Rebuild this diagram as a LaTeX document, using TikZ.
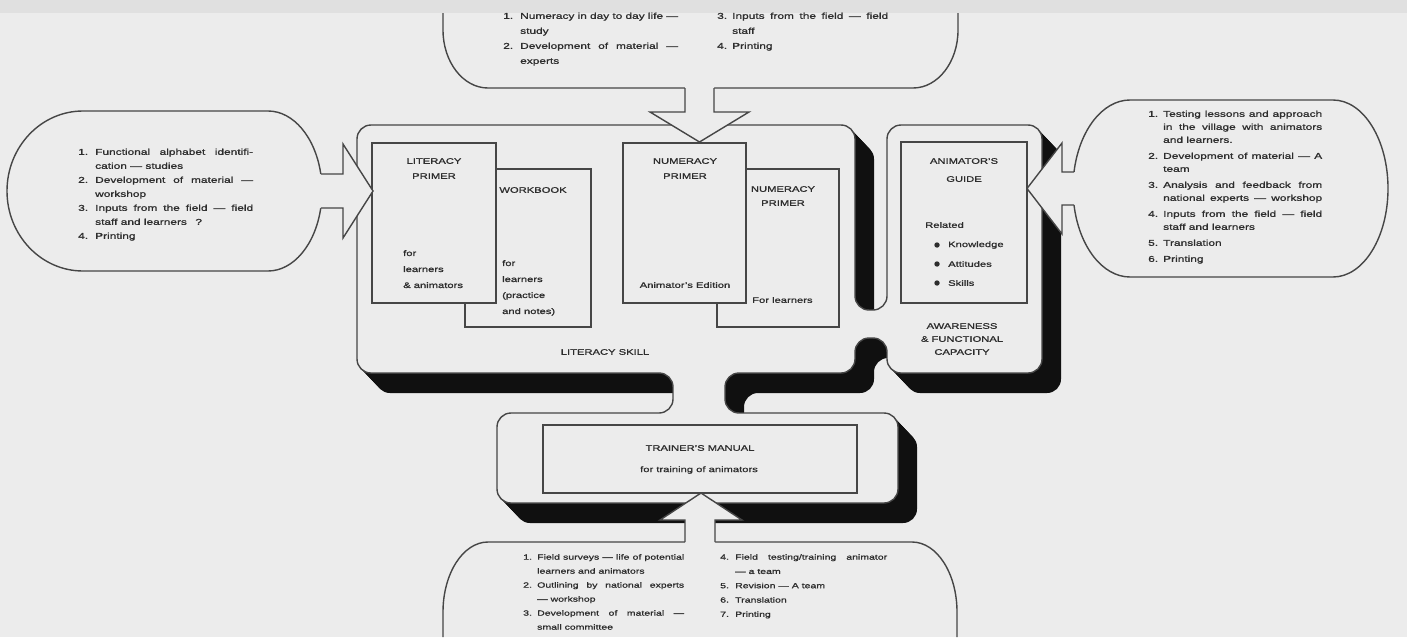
\documentclass[tikz,border=0pt]{standalone}
\usepackage{fontspec}
\setmainfont{Liberation Sans}[FakeStretch=1.4,FakeBold=1.2]
\definecolor{bgc}{RGB}{236,236,236}
\definecolor{stripc}{RGB}{224,224,224}
\definecolor{linec}{RGB}{70,70,70}
\definecolor{textc}{RGB}{45,45,45}
\definecolor{shc}{RGB}{16,16,16}
\newlength\cw
\newlength\nind
\newcommand\bfl[2]{\makebox[\nind][l]{#1}\makebox[\cw][s]{#2}}
\newcommand\bfe[2]{\makebox[\nind][l]{#1}#2}
\newcommand\bcl[1]{\hspace*{\nind}\makebox[\cw][s]{#1}}
\newcommand\bce[1]{\hspace*{\nind}#1}
\def\Pshape{(600,125) -- (855,125) -- (855,310) -- (887,310) -- (887,125) -- (1042,125) -- (1042,373) -- (887,373) -- (887,338) -- (855,338) -- (855,373) -- (725,373) -- (725,413) -- (898,413) -- (898,503) -- (497,503) -- (497,413) -- (673,413) -- (673,373) -- (357,373) -- (357,125) -- cycle}
\begin{document}
\begin{tikzpicture}[x=1pt,y=-1pt,
  outl/.style={draw=linec, line width=1.4pt},
  boxl/.style={draw=linec, fill=bgc, line width=1.3pt},
  bt/.style={font=\fontsize{8.5}{14}\selectfont, align=left, inner sep=0pt, text=textc, anchor=north west},
  hd/.style={font=\fontsize{8}{15}\selectfont, align=center, inner sep=0pt, text=textc},
  sm/.style={font=\fontsize{8}{16}\selectfont, align=left, inner sep=0pt, text=textc}]
\useasboundingbox (0,0) rectangle (1407,637);
\fill[bgc] (0,0) rectangle (1407,637);
\fill[stripc] (0,0) rectangle (1407,13);

% extruded shadow of the frames
\foreach \t in {1,...,20} {
  \fill[shc, rounded corners=14pt, shift={(\t*0.95,\t)}] \Pshape;
}
\filldraw[fill=bgc, outl, rounded corners=14pt] \Pshape;

% inner boxes
\draw[boxl] (465,169) rectangle (591,327);
\draw[boxl] (372,143) rectangle (496,303);
\draw[boxl] (717,169) rectangle (839,327);
\draw[boxl] (623,143) rectangle (746,303);
\draw[boxl] (901,142) rectangle (1027,303);
\draw[boxl] (543,425) rectangle (857,493);

% box texts
\node[hd, anchor=north] (lpT) at (434,158) {LITERACY\\PRIMER};
\node[sm, anchor=north west] (lpB) at (403,250) {for\\learners\\\& animators};
\node[hd] (wbT) at (533,190) {WORKBOOK};
\node[sm, anchor=north west] (wbB) at (502,260) {for\\learners\\(practice\\and notes)};
\node[hd, anchor=north] (npT) at (685,158) {NUMERACY\\PRIMER};
\node[sm] (npB) at (685,285) {Animator’s Edition};
\node[hd, anchor=north, font=\fontsize{8}{14}\selectfont] (nlT) at (783,186) {NUMERACY\\PRIMER};
\node[sm, anchor=west] (nlB) at (752,300) {For learners};
\node[hd, anchor=north, font=\fontsize{8}{18}\selectfont] (agT) at (964,158) {ANIMATOR’S\\GUIDE};
\node[sm, anchor=west] (agR) at (925,225) {Related};
\fill[textc] (937,245) circle (2.7);
\fill[textc] (937,264) circle (2.7);
\fill[textc] (937,283) circle (2.7);
\node[sm, anchor=west] (ag1) at (948,245) {Knowledge};
\node[sm, anchor=west] (ag2) at (948,264) {Attitudes};
\node[sm, anchor=west] (ag3) at (948,283) {Skills};
\node[hd, anchor=north, font=\fontsize{8}{13}\selectfont] (aw) at (962,323) {AWARENESS\\\& FUNCTIONAL\\CAPACITY};
\node[hd] (ls) at (605,352) {LITERACY SKILL};
\node[hd] (tmT) at (700,448) {TRAINER’S MANUAL};
\node[sm] (tmB) at (699,470) {for training of animators};

% top bubble
\draw[outl] (443,13) -- (443,30) arc[start angle=180, end angle=90, x radius=45, y radius=58] -- (913,88) arc[start angle=90, end angle=0, x radius=45, y radius=58] -- (958,13);
\fill[bgc] (685,80) -- (685,112) -- (650,112) -- (699.5,142) -- (749,112) -- (714,112) -- (714,80) -- cycle;
\draw[outl, line join=miter] (685,88) -- (685,112) -- (650,112) -- (699.5,142) -- (749,112) -- (714,112) -- (714,88);

% left bubble
\draw[outl] (320.8,174) arc[start angle=-12.27, end angle=-90, x radius=54, y radius=80] -- (83,111) arc[start angle=-90, end angle=-270, x radius=76, y radius=80] -- (268,271) arc[start angle=90, end angle=12.27, x radius=54, y radius=80];
\fill[bgc] (314,174) -- (343,174) -- (343,144) -- (373,191) -- (343,238) -- (343,208) -- (314,208) -- cycle;
\draw[outl, line join=miter] (320.8,174) -- (343,174) -- (343,144) -- (373,191) -- (343,238) -- (343,208) -- (320.8,208);

% right bubble
\draw[outl] (1074,205) arc[start angle=169.25, end angle=90, x radius=57, y radius=88.5] -- (1333,277) arc[start angle=90, end angle=-90, x radius=55, y radius=88.5] -- (1130,100) arc[start angle=270, end angle=190.75, x radius=57, y radius=88.5];
\fill[bgc] (1080,172) -- (1062,172) -- (1062,143) -- (1027,188.5) -- (1062,234) -- (1062,205) -- (1080,205) -- cycle;
\draw[outl, line join=miter] (1074,172) -- (1062,172) -- (1062,143) -- (1027,188.5) -- (1062,234) -- (1062,205) -- (1074,205);

% bottom bubble
\draw[outl] (443,637) -- (443,612) arc[start angle=180, end angle=270, x radius=45, y radius=70] -- (912,542) arc[start angle=270, end angle=360, x radius=45, y radius=70] -- (957,637);
\fill[bgc] (685,550) -- (685,520) -- (660,520) -- (701,493) -- (742,520) -- (715,520) -- (715,550) -- cycle;
\draw[outl, line join=miter] (685,542) -- (685,520) -- (660,520) -- (701,493) -- (742,520) -- (715,520) -- (715,542);

% bubble texts
\setlength\nind{17pt}\setlength\cw{158pt}
\node[bt, font=\fontsize{8.5}{15}\selectfont] (topL) at (503,12.5) {\bfl{1.}{Numeracy in day to day life —}\\\bce{study}\\\bfl{2.}{Development of material —}\\\bce{experts}};
\setlength\nind{15pt}\setlength\cw{156pt}
\node[bt, font=\fontsize{8.5}{15}\selectfont] (topR) at (717,12.5) {\bfl{3.}{Inputs from the field — field}\\\bce{staff}\\\bfe{4.}{Printing}};
\setlength\nind{17pt}\setlength\cw{158pt}
\node[bt] (leftT) at (78,148.5) {\bfl{1.}{Functional alphabet identifi-}\\\bce{cation — studies}\\\bfl{2.}{Development of material —}\\\bce{workshop}\\\bfl{3.}{Inputs from the field — field}\\\bce{staff and learners\quad ?}\\\bfe{4.}{Printing}};
\setlength\nind{15pt}\setlength\cw{159pt}
\node[bt, font=\fontsize{8.5}{13}\selectfont] (rightT) at (1148,110.5) {\bfl{1.}{Testing lessons and approach}\\\bcl{in the village with animators}\\\bce{and learners.}\\[3pt]\bfl{2.}{Development of material — A}\\\bce{team}\\[3pt]\bfl{3.}{Analysis and feedback from}\\\bcl{national experts — workshop}\\[3pt]\bfl{4.}{Inputs from the field — field}\\\bce{staff and learners}\\[3pt]\bfe{5.}{Translation}\\[3pt]\bfe{6.}{Printing}};
\setlength\nind{14pt}\setlength\cw{147pt}
\node[bt, font=\fontsize{7.5}{14}\selectfont] (botL) at (523,554) {\bfl{1.}{Field surveys — life of potential}\\\bce{learners and animators}\\\bfl{2.}{Outlining by national experts}\\\bce{— workshop}\\\bfl{3.}{Development of material —}\\\bce{small committee}};
\setlength\nind{15pt}\setlength\cw{152pt}
\node[bt, font=\fontsize{7.5}{14.3}\selectfont] (botR) at (720,554) {\bfl{4.}{Field testing/training animator}\\\bce{— a team}\\\bfe{5.}{Revision — A team}\\\bfe{6.}{Translation}\\\bfe{7.}{Printing}};
\end{tikzpicture}
\end{document}
